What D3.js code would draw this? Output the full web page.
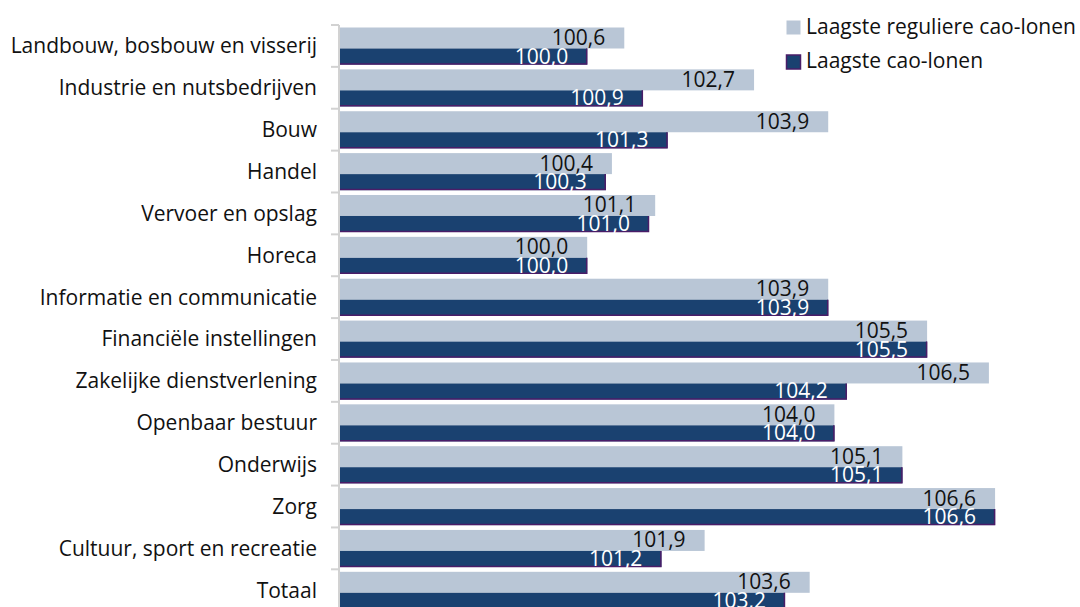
<!DOCTYPE html>
<html><head><meta charset="utf-8">
<script src="https://cdn.jsdelivr.net/npm/d3@7"></script>
<style>body{margin:0;background:#fff;} svg{display:block;}</style>
</head><body>
<svg id="c" width="1080" height="607"></svg>
<script>
const categories = ["Landbouw, bosbouw en visserij","Industrie en nutsbedrijven","Bouw","Handel ","Vervoer en opslag","Horeca","Informatie en communicatie","Financiële instellingen","Zakelijke dienstverlening","Openbaar bestuur","Onderwijs","Zorg","Cultuur, sport en recreatie","Totaal"];
const regulier = [100.6,102.7,103.9,100.4,101.1,100.0,103.9,105.5,106.5,104.0,105.1,106.6,101.9,103.6];
const laagste  = [100.0,100.9,101.3,100.3,101.0,100.0,103.9,105.5,104.2,104.0,105.1,106.6,101.2,103.2];
const seriesNames = ["Laagste reguliere cao-lonen","Laagste cao-lonen"];

const colLight = "#b9c6d6", colDark = "#1a4170", colEdge = "#4a1d68";
const font = "'Open Sans', sans-serif";
const svg = d3.select("#c");
const x = d3.scaleLinear().domain([96, 107]).range([340, 340 + 11*61.8]);
const y = d3.scaleBand().domain(categories).range([25, 25 + 14*41.87]).padding(0);
const fmt = v => d3.format(".1f")(v).replace(".", ",");

// axis
svg.append("line").attr("x1",339).attr("x2",339).attr("y1",y.range()[0]).attr("y2",607)
  .attr("stroke","#d2d2d2").attr("stroke-width",2);
svg.selectAll(".tk").data(categories).join("line")
  .attr("x1",331).attr("x2",339).attr("y1",d=>y(d)).attr("y2",d=>y(d))
  .attr("stroke","#d2d2d2").attr("stroke-width",2);

// category labels
svg.selectAll(".cat").data(categories).join("text")
  .attr("x",317).attr("y",d=>y(d)+y.bandwidth()/2).attr("dy","0.35em")
  .attr("text-anchor","end").attr("font-family",font).attr("font-size",21).attr("fill","#111")
  .text(d=>d);

// bars
const g = svg.append("g");
g.selectAll(".l").data(categories).join("rect")
  .attr("x",x(96)).attr("y",d=>y(d)+2.5).attr("height",21)
  .attr("width",(d,i)=>x(regulier[i])-x(96)).attr("fill",colLight);
g.selectAll(".d").data(categories).join("rect")
  .attr("x",x(96)).attr("y",d=>y(d)+23.5).attr("height",16)
  .attr("width",(d,i)=>x(laagste[i])-x(96)).attr("fill",colDark);
g.selectAll(".de").data(categories).join("path")
  .attr("d",(d,i)=>`M${x(96)},${y(d)+39}H${x(laagste[i])-0.5}V${y(d)+23.5}`)
  .attr("fill","none").attr("stroke",colEdge).attr("stroke-width",1.5);

// value labels
g.selectAll(".lt").data(categories).join("text")
  .attr("x",(d,i)=>x(regulier[i])-19).attr("y",d=>y(d)+20)
  .attr("text-anchor","end").attr("font-family",font).attr("font-size",21).attr("fill","#111")
  .text((d,i)=>fmt(regulier[i]));
g.selectAll(".dt").data(categories).join("text")
  .attr("x",(d,i)=>x(laagste[i])-19).attr("y",d=>y(d)+38.5)
  .attr("text-anchor","end").attr("font-family",font).attr("font-size",21).attr("fill","#fff")
  .text((d,i)=>fmt(laagste[i]));

// legend
const lg = svg.append("g");
[colLight,colDark].forEach((c,i)=>{
  lg.append("rect").attr("x",786.5).attr("y",20.5+i*34.5).attr("width",14).attr("height",14)
    .attr("fill",c).attr("stroke", i ? colEdge : "none").attr("stroke-width",1.5);
  lg.append("text").attr("x",806).attr("y",33.5+i*34.5).attr("font-family",font).attr("font-size",21)
    .attr("fill","#111").text(seriesNames[i]);
});
</script>
</body></html>
